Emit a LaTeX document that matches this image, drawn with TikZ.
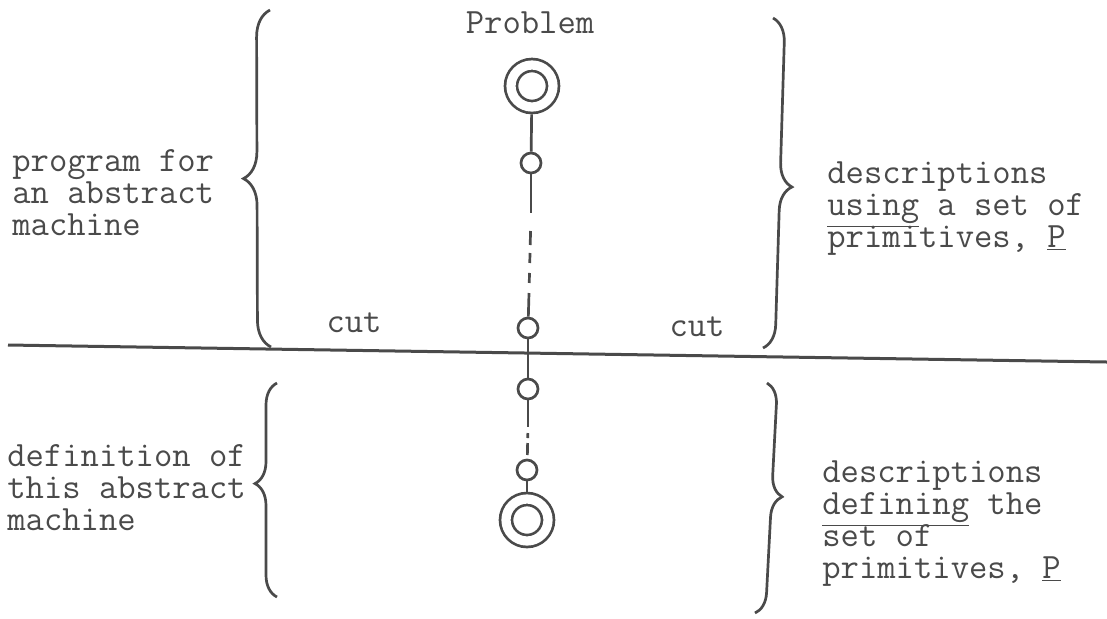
\documentclass[tikz,border=0pt]{standalone}
\usetikzlibrary{decorations.pathreplacing}
\definecolor{ink}{HTML}{4A4A4A}
\frenchspacing

\begin{document}
\begin{tikzpicture}[x=0.5pt,y=-0.5pt,
    txt/.style={font=\fontsize{17.8}{16}\selectfont\ttfamily, text=ink, inner sep=0pt, align=left, anchor=base west},
    state/.style={circle, draw=ink, line width=1.35pt, minimum size=10pt, inner sep=0pt},
    goal/.style={state, double, double distance=4.6pt, minimum size=21pt, outer sep=3.65pt},
    link/.style={draw=ink, line width=1.35pt},
    curly/.style={decorate, decoration={brace, amplitude=#1}, draw=ink, line width=1.35pt}]
    \useasboundingbox (0,0) rectangle (1107,618);

    % states down the middle
    \node[goal]  (s0) at (532,86)  {};
    \node[state] (s1) at (531,163) {};
    \node[state] (s2) at (528,328) {};
    \node[state] (s3) at (528,389) {};
    \node[state] (s4) at (527,470) {};
    \node[goal]  (s5) at (527,520) {};
    \coordinate (g1) at (531,213);
    \coordinate (g2) at (529,293);
    \coordinate (g3) at (528,427);
    \draw[link] (s0) -- (s1);
    \draw[link] (s1) -- (g1);
    \draw[link, dash pattern=on 0pt off 9pt on 7pt off 4pt on 5pt off 5pt on 5pt off 5pt] (g1) -- (g2);
    \draw[link] (g2) -- (s2);
    \draw[link] (s2) -- (s3);
    \draw[link] (s3) -- (g3);
    \draw[link, dash pattern=on 0pt off 3pt on 2.5pt off 2.5pt on 6pt off 2pt] (g3) -- (s4);
    \draw[link] (s4) -- (s5);

    % the cut
    \coordinate (cutw) at (8,345);
    \coordinate (cute) at (1107,362);
    \draw[link, line width=1.5pt] (cutw) -- (cute);

    % braces
    \draw[curly=13.5pt, decoration={aspect=0.5}] (271,347) -- (270,10);
    \draw[curly=12pt, decoration={aspect=0.51}] (773,18) -- (763,348);
    \draw[curly=11pt, decoration={aspect=0.53}] (277,597) -- (277,383);
    \draw[curly=10.5pt, decoration={aspect=0.49}] (767,383) -- (755,613);

    % labels (base = last line)
    \node[txt, anchor=base] (problem) at (530,33) {Problem};
    \node[txt, anchor=base] (cutl) at (354,332) {cut};
    \node[txt, anchor=base] (cutr) at (697,336) {cut};
    \node[txt] (prog) at (12,235) {program for\\an abstract\\machine};
    \node[txt] (usep) at (827,247) {descriptions\\\smash{\underline{using}} a set of\\primitives, \smash{\underline{P}}};
    \node[txt] (defn) at (7,530) {definition of\\this abstract\\machine};
    \node[txt] (defp) at (822,578) {descriptions\\\smash{\underline{defining}} the\\set of\\primitives, \smash{\underline{P}}};
\end{tikzpicture}
\end{document}
